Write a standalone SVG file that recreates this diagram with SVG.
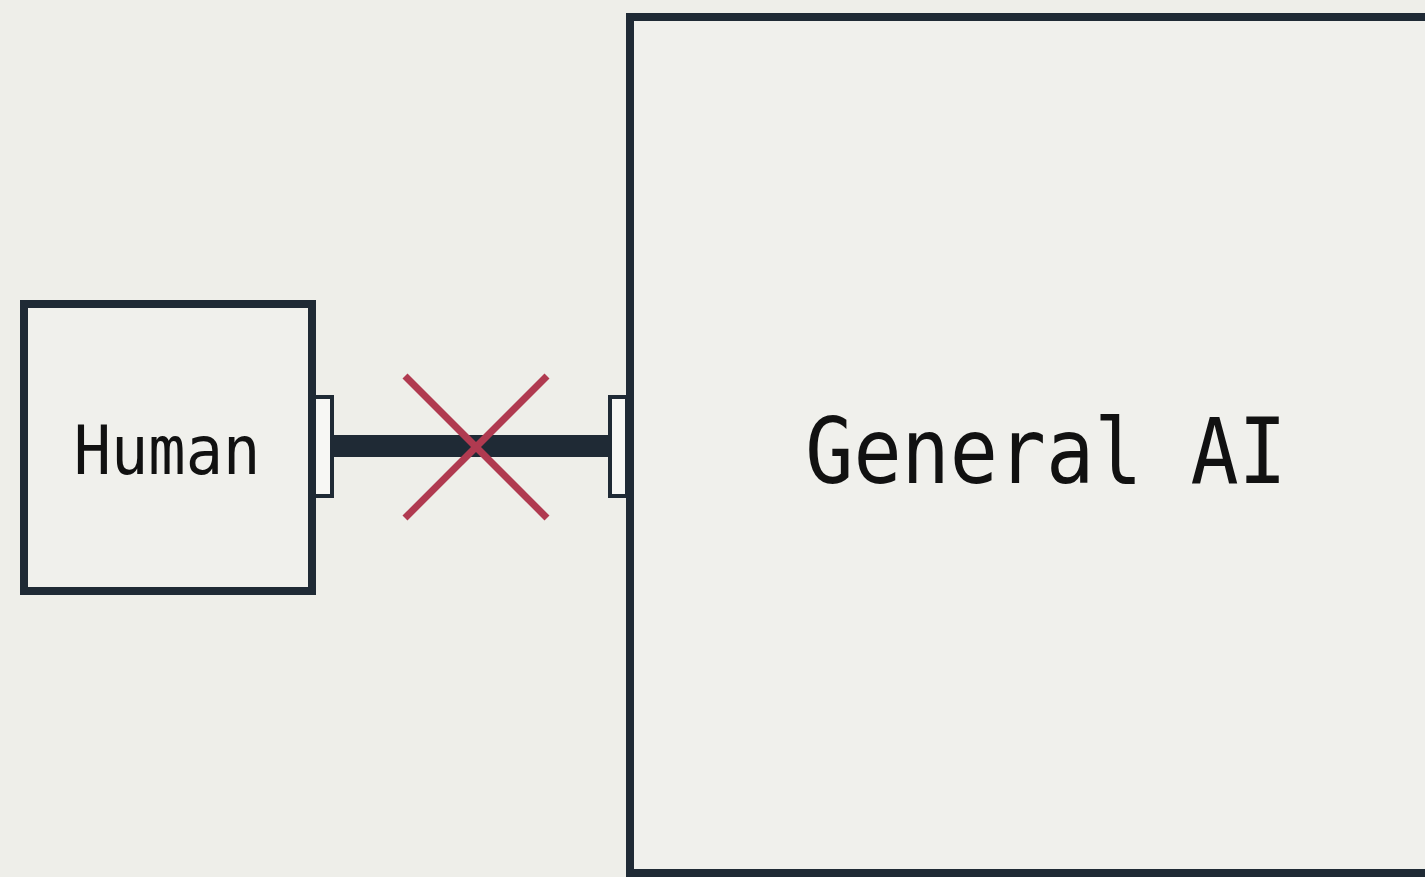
<svg xmlns="http://www.w3.org/2000/svg" width="1425" height="877" viewBox="0 0 1425 877">
<style>
.box{fill:#f0f0ec;stroke:#1f2a35;stroke-width:8}
.port{fill:#f7f7f4;stroke:#1f2a35;stroke-width:4}
.lbl{font-family:"DejaVu Sans Mono","Liberation Mono",monospace;fill:#111;text-anchor:middle}
.x{stroke:#b03a50;stroke-width:7;stroke-linecap:butt}
</style>
<rect width="1425" height="877" fill="#eeeee9"/>
<g id="connectors">
<rect x="330" y="435" width="282" height="22" fill="#1f2a35"/>
<line class="x" x1="405" y1="376" x2="547" y2="518"/>
<line class="x" x1="547" y1="376" x2="405" y2="518"/>
</g>
<g id="human">
<rect class="box" x="24" y="304" width="288" height="287"/>
<rect class="port" x="314" y="397" width="18" height="99"/>
<text class="lbl" font-size="62" transform="translate(167,474) scale(1,1.08)">Human</text>
</g>
<g id="general-ai">
<rect class="box" x="630" y="17" width="820" height="856"/>
<rect class="port" x="610" y="397" width="17" height="99"/>
<text class="lbl" font-size="80" transform="translate(1046,483) scale(1,1.13)">General AI</text>
</g>
</svg>
